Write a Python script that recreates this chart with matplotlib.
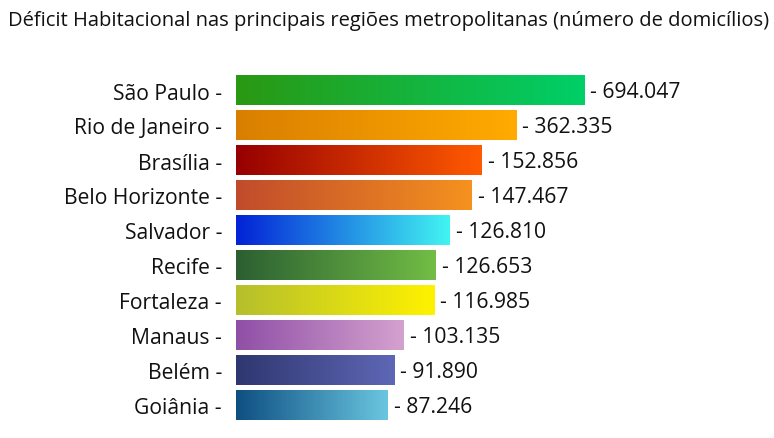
import numpy as np
import matplotlib
matplotlib.use("Agg")
from matplotlib import pyplot as plt
from matplotlib.colors import LinearSegmentedColormap

# dados
regioes = ["São Paulo", "Rio de Janeiro", "Brasília", "Belo Horizonte", "Salvador",
           "Recife", "Fortaleza", "Manaus", "Belém", "Goiânia"]
deficit = [694047, 362335, 152856, 147467, 126810, 126653, 116985, 103135, 91890, 87246]
# comprimento visual das barras no original (não proporcional aos valores)
comprimento = [349, 281, 246, 236, 214, 200, 199, 168, 159, 152]

cor_inicio = ["#2a9812", "#d97f00", "#960000", "#c04b2c", "#0322d6",
              "#2b5f32", "#b5bf2d", "#8f4fa6", "#2f3770", "#0e4f82"]
cor_fim = ["#00cf68", "#ffab00", "#ff5a00", "#f5921f", "#42f4f2",
           "#72bd45", "#fff200", "#d4a2cf", "#5e67b5", "#6ac6e0"]

plt.rcParams['font.family'] = ['Open Sans', 'DejaVu Sans']

W, H = 774, 439
fig = plt.figure(figsize=(W / 100, H / 100), dpi=100)
ax = fig.add_axes([236 / W, (H - 424) / H, 538 / W, 350 / H])

n = len(regioes)
y = np.arange(n)
altura = 0.83

bars = ax.barh(y, comprimento, height=altura, color='none')
grad = np.linspace(0, 1, 256).reshape(1, -1)
for i, b in enumerate(bars):
    cmap = LinearSegmentedColormap.from_list(f"g{i}", [cor_inicio[i], cor_fim[i]])
    ax.imshow(grad, cmap=cmap, aspect='auto', interpolation='bilinear',
              extent=(0, comprimento[i], i + altura / 2, i - altura / 2), zorder=2)
    valor = f"{deficit[i]:,}".replace(",", ".")
    ax.text(comprimento[i] + 5.5, i + 0.03, f"- {valor}", va='center', ha='left',
            fontsize=15.2, color='#111111')

ax.set_xlim(0, 538)
ax.set_ylim(n - 0.5, -0.5)
ax.set_yticks(y)
ax.set_yticklabels([r + " -" for r in regioes], fontsize=15.2, color='#111111')
ax.tick_params(axis='y', length=0, pad=10)
ax.set_xticks([])
for s in ax.spines.values():
    s.set_visible(False)

fig.text(8 / W, 1 - 26 / H, "Déficit Habitacional nas principais regiões metropolitanas (número de domicílios)",
         ha='left', va='baseline', fontsize=14.5, color='#111111')

fig.savefig("out.png", dpi=100)
